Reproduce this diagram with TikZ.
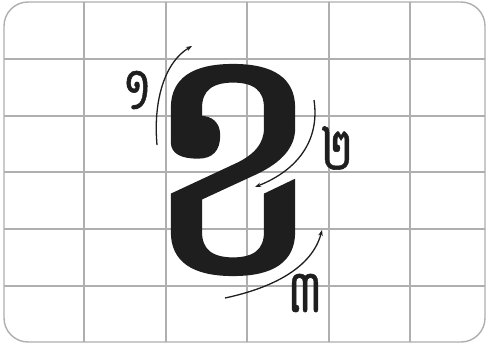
\documentclass[tikz,border=0pt]{standalone}
\usepackage{fontspec}
\usepackage{graphicx}
\newfontfamily\khmerfont[Script=Khmer,FakeBold=1]{Battambang}
\newfontfamily\khmerheavy[Script=Khmer,FakeBold=1.5]{Battambang}
\usetikzlibrary{arrows.meta}
\definecolor{gridgray}{RGB}{175,175,175}
\definecolor{inkdark}{RGB}{30,30,30}
\tikzset{
  gridline/.style={gridgray, line width=1.2pt},
  framebox/.style={gridgray, line width=1.4pt, rounded corners=24pt},
  bigletter/.style={inner sep=0pt, text=inkdark, font=\khmerheavy\fontsize{312}{312}\selectfont},
  digit/.style={inner sep=0pt, text=inkdark, font=\khmerfont\fontsize{46}{46}\selectfont},
  strokearrow/.style={inkdark, line width=1.3pt, -{Stealth[length=6pt,width=4.5pt]}},
}
\begin{document}
\begin{tikzpicture}[x=1pt,y=-1pt]
\useasboundingbox (0,0) rectangle (487,345);
\fill[white] (0,0) rectangle (487,345);
\begin{scope}
\clip[rounded corners=24pt] (4,2) rectangle (485,342);
\foreach \gx in {84,166,247,329,410} \draw[gridline] (\gx,0) -- (\gx,345);
\foreach \gy in {59,116,172,229,286} \draw[gridline] (0,\gy) -- (487,\gy);
\end{scope}
\draw[framebox] (4,2) rectangle (485,342);
\node[bigletter] (kh) at (233,170) {\scalebox{1}[1.04]{ខ}};
\node[digit] (d1) at (137,90) {\scalebox{1}[1.3]{១}};
\node[digit] (d2) at (337,148) {\scalebox{1}[1.3]{២}};
\node[digit] (d3) at (305,293) {\scalebox{1}[1.3]{៣}};
\coordinate (a1s) at (157,145); \coordinate (a1e) at (192,46);
\coordinate (a2s) at (314,100); \coordinate (a2e) at (255,187);
\coordinate (a3s) at (225,298); \coordinate (a3e) at (322,230);
\draw[strokearrow] (a1s) .. controls (153,100) and (165,62) .. (a1e);
\draw[strokearrow] (a2s) .. controls (320,140) and (298,170) .. (a2e);
\draw[strokearrow] (a3s) .. controls (272,288) and (312,268) .. (a3e);
\end{tikzpicture}
\end{document}
